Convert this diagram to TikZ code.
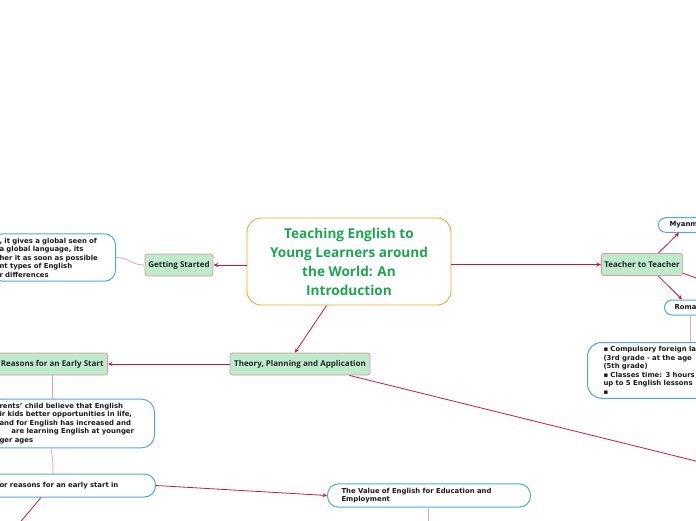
\documentclass[tikz,border=0pt]{standalone}
\usepackage{fontspec}
\setmainfont{DejaVu Sans}
\newfontfamily\headfont{Open Sans}
\usetikzlibrary{arrows.meta}
\definecolor{linkred}{RGB}{206,22,62}
\definecolor{twigpink}{RGB}{236,160,180}
\definecolor{leafblue}{RGB}{74,168,232}
\definecolor{topicfill}{RGB}{190,235,203}
\definecolor{topicedge}{RGB}{222,150,160}
\definecolor{titleorange}{RGB}{245,165,35}
\definecolor{titlegreen}{RGB}{26,166,80}
\tikzset{
  title/.style={draw=titleorange, line width=0.9pt, rounded corners=14pt, minimum width=204pt, minimum height=87pt, align=center, text=titlegreen, font=\headfont\bfseries\fontsize{13.6}{19}\selectfont},
  topic/.style={draw=topicedge, fill=topicfill, rounded corners=2.5pt, line width=0.8pt, minimum height=22pt, inner xsep=3pt, text=black!85, font=\headfont\bfseries\fontsize{8}{9.5}\selectfont},
  leaf/.style={draw=leafblue, line width=1pt, rounded corners=11pt, align=left, inner ysep=4pt, text=black!90, font=\bfseries\fontsize{6.9}{8.5}\selectfont},
  link/.style={draw=linkred, line width=0.8pt, -{Stealth[length=4.5pt,width=4pt]}},
  wire/.style={draw=linkred, line width=0.8pt},
  twig/.style={draw=twigpink, line width=0.8pt}
}
\begin{document}
\begin{tikzpicture}[x=1pt,y=-1pt]
  \useasboundingbox (0,0) rectangle (696,520);

  \node[title] (intro) at (349,261.5) {Teaching English to\\Young Learners around\\the World: An\\Introduction};

  \node[topic, minimum width=68pt] (start) at (179,265) {Getting Started};
  \node[topic, minimum width=80pt] (peer) at (642,264.5) {Teacher to Teacher};
  \node[topic, minimum width=140pt] (theory) at (300,364) {Theory, Planning and Application};
  \node[topic, anchor=east, inner xsep=4pt] (early) at (108,364) {Reasons for an Early Start};

  \node[leaf, anchor=east, text width=108pt, inner xsep=8pt] (startnote) at (116,257.5) {, it gives a global seen of\\a global language, its\\her it as soon as possible\\nt types of English\\r differences};
  \node[leaf, anchor=west, text width=60pt, inner xsep=11pt, rounded corners=7pt, minimum height=14pt] (myan) at (658,225) {Myanm};
  \node[leaf, anchor=west, text width=60pt, inner xsep=10pt, rounded corners=7.5pt, minimum height=15pt] (roma) at (664,307.5) {Roma};
  \node[leaf, anchor=north west, text width=160pt, inner xsep=16pt, rounded corners=14pt] (romanote) at (587,342) {▪ Compulsory foreign la\\(3rd grade - at the age\\(5th grade)\\▪ Classes time: 3 hours\\up to 5 English lessons\\▪};
  \node[leaf, anchor=east, text width=143pt, inner xsep=12pt, rounded corners=13pt] (whynote) at (155,423.5) {rents' child believe that English\\ir kids better opportunities in life,\\and for English has increased and\\\hspace*{12pt}are learning English at younger\\ger ages};
  \node[leaf, anchor=east, text width=144pt, inner xsep=12pt, minimum height=23pt] (major) at (156,485.5) {or reasons for an early start in};
  \node[leaf, anchor=west, text width=175pt, inner xsep=14pt, minimum height=23pt] (value) at (327,495.5) {The Value of English for Education and\\Employment};

  \coordinate (myanIn) at ([xshift=21pt]myan.south west);
  \coordinate (romaIn) at ([xshift=18pt]roma.north west);
  \coordinate (romaFoot) at ([xshift=26pt]roma.south west);
  \coordinate (whyFoot) at ([xshift=64pt]whynote.south west);
  \coordinate (majorTop) at ([xshift=66pt]major.north west);
  \coordinate (majorFoot) at ([xshift=54pt]major.south west);
  \coordinate (valueFoot) at ([xshift=101pt]value.south west);
  \coordinate (offright) at (710,464.5);
  \coordinate (offpeer) at (710,283);
  \coordinate (offleft) at (12,532);
  \coordinate (offvalue) at (428,530);

  \draw[link] (intro.west |- start.east) -- (start.east);
  \draw[link] (intro.east |- peer.west) -- (peer.west);
  \draw[link] (intro.243) -- (theory.114);
  \draw[link] (theory.west) -- (early.east);
  \draw[wire] (theory.-13) -- (offright);
  \draw[link] (peer.35) -- (myanIn);
  \draw[link] (peer.-35) -- (romaIn);
  \draw[wire] (peer.-12) -- (offpeer);
  \draw[link] (major.east) -- (value.west);
  \draw[wire] (majorFoot) -- (offleft);

  \draw[twig] (start.west) .. controls +(-14,0) and +(14,0) .. (startnote.east);
  \draw[twig] (romaFoot) -- (romaFoot |- romanote.north);
  \draw[twig] (early.south) -- (early.south |- whynote.north);
  \draw[twig] (whyFoot) .. controls +(2,14) and +(0,-10) .. (majorTop);
  \draw[twig] (valueFoot) -- (offvalue);
\end{tikzpicture}
\end{document}
